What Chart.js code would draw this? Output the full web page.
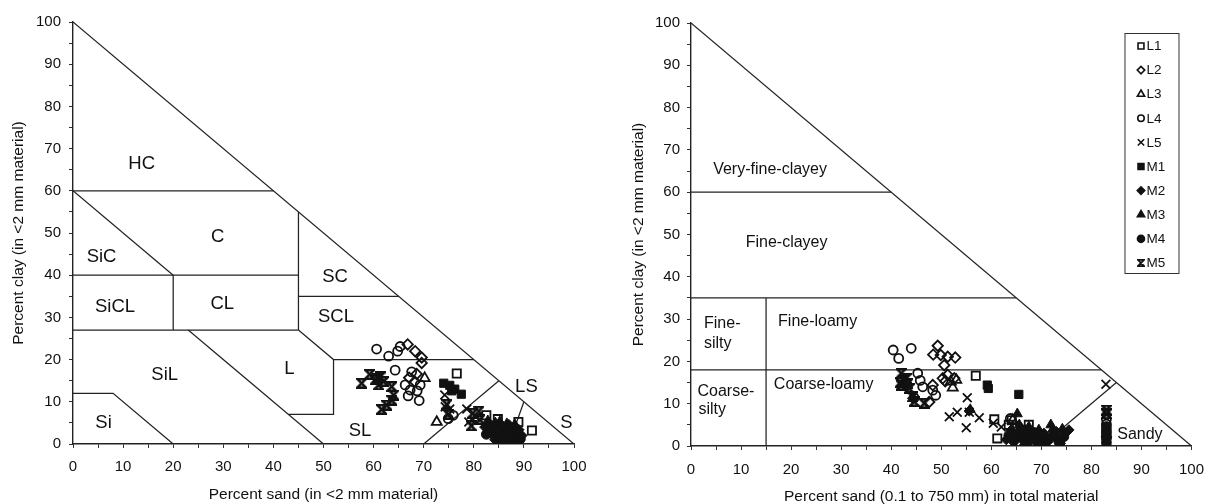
<!DOCTYPE html>
<html><head><meta charset="utf-8">
<script src="https://cdn.jsdelivr.net/npm/chart.js"></script>
<style>
html,body{margin:0;padding:0;background:#fff;}
#wrap{position:relative;width:1215px;height:504px;background:#fff;}
#c1{position:absolute;left:0;top:0;}
#c2{position:absolute;left:600px;top:0;}
</style></head><body>
<div id="wrap"><canvas id="c1" width="600" height="504"></canvas><canvas id="c2" width="615" height="504"></canvas></div>
<script>
// ---------- DATA: left chart (percent sand / clay in <2 mm material) ----------
const leftL1 = [[76.6,16.7],[82.5,6.8],[84.8,5.9],[88.9,5.2],[91.6,3.2]];
const leftL2 = [[66.8,23.6],[68.3,22.0],[69.6,20.5],[69.6,19.2],[68.6,16.6],[67.1,15.7],[68.2,14.8]];
const leftL3 = [[70.2,15.6],[72.6,5.2]];
const leftL4 = [[60.6,22.5],[63.0,20.8],[64.8,22.0],[65.3,23.1],[64.3,17.5],[67.6,17.1],[66.3,14.0],[67.3,12.8],[68.7,12.6],[66.9,11.4],[69.1,10.3],[69.3,14.0],[75.9,6.8],[74.9,6.0]];
const leftL5 = [[74.2,11.6],[75.2,8.3],[74.3,8.8],[78.6,8.3],[80.4,6.4],[79.0,5.2]];
const leftM1 = [[74.0,14.4],[75.2,13.9],[76.2,13.0],[77.5,11.8],[75.6,12.6]];
const leftM2 = [[82.2,4.0],[83.5,4.5],[84.5,3.2],[85.8,4.2],[86.0,2.0],[87.0,1.4],[87.5,2.8],[88.3,0.6],[89.0,3.4],[89.6,2.0],[84.2,1.0],[85.3,0.8],[87.0,4.6]];
const leftM3 = [[82.8,5.5],[84.3,5.0],[85.2,5.3],[86.6,4.8],[88.2,4.6],[86.9,0.3],[85.8,1.3],[88.8,1.0],[83.8,3.5]];
const leftM4 = [[83.2,3.0],[84.0,2.2],[84.8,1.5],[85.5,2.8],[86.2,1.0],[86.8,2.2],[87.4,0.4],[88.0,1.5],[88.6,2.6],[85.0,3.8],[86.5,3.5],[87.8,3.8],[89.3,1.2],[82.5,2.3]];
const leftM5 = [[57.6,14.4],[59.2,16.5],[60.3,15.2],[61.3,15.9],[61.0,14.0],[62.0,14.8],[60.8,15.6],[63.6,13.6],[64.0,11.6],[63.6,10.4],[62.6,9.2],[61.6,8.2],[74.6,9.4],[74.9,7.0],[79.8,7.3],[79.5,4.3],[81.2,5.8],[81.0,7.8]];

// ---------- DATA: right chart (percent sand 0.1 to 750 mm in total material) ----------
const rightL1 = [[56.9,16.6],[60.6,6.3],[61.2,1.8],[63.5,5.0],[64.1,6.1],[67.5,5.0],[66.0,3.5],[68.5,2.5]];
const rightL2 = [[49.3,23.7],[48.4,21.6],[49.9,21.5],[51.3,21.1],[52.8,20.9],[50.6,19.1],[50.3,16.0],[51.3,16.8],[52.6,16.0],[48.3,14.4],[50.8,15.3],[47.6,10.4]];
const rightL3 = [[51.9,15.2],[52.3,13.8],[53.0,15.6],[64.3,6.1]];
const rightL4 = [[40.4,22.7],[41.5,20.7],[44.0,23.1],[45.3,17.2],[46.3,14.0],[48.3,13.2],[48.9,12.0],[44.6,11.4],[45.8,15.5],[63.8,6.5],[65.0,2.0],[83.0,6.3],[83.0,5.2]];
const rightL5 = [[55.2,11.4],[51.6,6.9],[53.2,8.0],[55.6,8.0],[57.6,6.7],[55.0,4.3],[82.9,14.6],[60.4,5.4],[62.0,4.5]];
const rightM1 = [[59.2,14.4],[59.4,13.6],[65.5,12.2]];
const rightM2 = [[64.0,3.8],[65.0,2.0],[66.0,4.2],[67.3,2.8],[68.0,1.4],[69.0,2.6],[69.8,0.4],[70.5,3.0],[71.2,1.2],[72.0,2.0],[73.0,3.4],[73.8,0.6],[74.8,3.0],[75.5,3.8],[63.0,1.5],[83.0,2.3],[83.0,3.3],[55.6,8.3],[44.3,11.3]];
const rightM3 = [[65.2,7.6],[55.8,8.6],[65.6,5.0],[67.5,4.5],[69.5,3.8],[71.9,5.0],[72.3,4.0],[73.2,2.0],[70.2,1.5],[66.5,0.6],[74.2,4.0]];
const rightM4 = [[63.5,2.5],[64.5,1.2],[65.5,3.0],[66.2,1.8],[67.0,0.8],[67.8,2.2],[68.5,3.2],[69.2,1.0],[70.0,2.0],[70.8,0.5],[71.5,1.6],[72.5,2.6],[73.5,1.0],[74.5,2.2],[66.8,3.8],[83.0,0.8],[83.0,1.8],[83.0,2.8],[83.0,3.8],[83.0,4.6]];
const rightM5 = [[42.0,17.2],[42.4,15.6],[42.0,14.4],[43.3,14.8],[43.6,13.6],[44.3,11.6],[44.6,10.5],[46.6,10.1],[43.0,16.0],[41.8,15.0],[83.0,8.5],[83.0,7.6],[83.0,1.0]];

const seriesNames = ['L1','L2','L3','L4','L5','M1','M2','M3','M4','M5'];

// class boundaries (sand %, clay %)
const leftBoundaries = [
  [[0,100],[100,0]], [[0,60],[40,60]], [[0,60],[20,40]], [[0,40],[45,40]],
  [[45,55],[45,27]], [[20,40],[20,27]], [[0,27],[45,27]], [[45,35],[65,35]],
  [[45,27],[52,20],[80,20]], [[52,20],[52,7],[43,7]], [[23,27],[50,0]],
  [[0,12],[8,12],[20,0]], [[70,0],[85,15]], [[90,10],[87,0]]
];
const rightBoundaries = [
  [[0,100],[100,0]], [[0,60],[40,60]], [[0,35],[65,35]], [[0,18],[82,18]],
  [[15,35],[15,0]], [[70,0],[85,15]]
];
const leftRegionLabels = [
  ['HC',13.7,66.4],['C',28.9,49.1],['SiC',5.7,44.3],['SC',52.3,39.6],['SiCL',8.4,32.4],
  ['CL',29.8,33.2],['SCL',52.5,30.1],['SiL',18.3,16.3],['L',43.2,17.9],['LS',90.5,13.6],
  ['S',98.5,4.9],['Si',6.1,4.9],['SL',57.3,3.1]
];
const rightRegionLabels = [
  ['Very-fine-clayey',15.8,65.3,'center'],['Fine-clayey',19.1,48.2,'center'],
  ['Fine-',2.6,29.0,'left'],['silty',2.6,24.2,'left'],['Fine-loamy',25.3,29.5,'center'],
  ['Coarse-',1.3,12.8,'left'],['silty',1.5,8.5,'left'],['Coarse-loamy',26.5,14.4,'center'],
  ['Sandy',89.7,2.8,'center']
];
const xTitleLeft = 'Percent sand (in <2 mm material)';
const xTitleRight = 'Percent sand (0.1 to 750 mm) in total material';
const yTitle = 'Percent clay (in <2 mm material)';

// ---------- styles ----------
const FONT = '"Liberation Sans", Arial, Helvetica, sans-serif';
const INK = '#111';
Chart.defaults.font.family = FONT;
Chart.defaults.color = INK;

function hourglass(size, lw){
  const c = document.createElement('canvas'); c.width = size; c.height = size;
  const g = c.getContext('2d'); g.strokeStyle = INK; g.lineWidth = lw; g.lineJoin='miter';
  const a = lw/2, b = size - lw/2;
  g.beginPath(); g.moveTo(a,a); g.lineTo(b,a); g.lineTo(a,b); g.lineTo(b,b); g.closePath(); g.stroke();
  return c;
}
const hgPlot = hourglass(11, 2.4);
const hgLegend = hourglass(8, 1.8);

const markerStyles = ['rect','rectRot','triangle','circle','crossRot','rect','rectRot','triangle','circle', hgPlot];
const markerRadius = [5.8,5.2,5.8,4.5,6.2,5.8,5.2,5.8,4.9,5.5];
const markerFilled = [false,false,false,false,false,true,true,true,true,false];

function scatterSets(arrs){
  return arrs.map((arr,i)=>({
    type:'scatter', label: seriesNames[i],
    data: arr.map(p=>({x:p[0], y:p[1]})),
    pointStyle: markerStyles[i], pointRadius: markerRadius[i],
    backgroundColor: markerFilled[i] ? INK : 'rgba(255,255,255,0)',
    borderColor: INK, borderWidth: markerFilled[i] ? 1 : 1.8,
    order: 1
  }));
}
function lineSets(bounds){
  return bounds.map(b=>({
    type:'line', data: b.map(p=>({x:p[0], y:p[1]})), showLine:true,
    pointRadius:0, borderColor:'#222', borderWidth:1.25, fill:false, tension:0, order: 5
  }));
}

const regionLabelPlugin = {
  id:'regionLabels',
  beforeDatasetsDraw(chart, args, opts){
    const {ctx, scales:{x,y}} = chart;
    ctx.save(); ctx.fillStyle = INK; ctx.font = opts.font; ctx.textBaseline = 'middle';
    (opts.labels||[]).forEach(l=>{ ctx.textAlign = l[3]||'center';
      ctx.fillText(l[0], x.getPixelForValue(l[1]), y.getPixelForValue(l[2])); });
    ctx.restore();
  }
};
const boxLegendPlugin = {
  id:'boxLegend',
  afterDraw(chart, args, opts){
    if(!opts.show) return;
    const {ctx, chartArea} = chart;
    const left = chartArea.right - 67, top = chartArea.top + 10, w = 54, h = 240;
    ctx.save();
    ctx.strokeStyle = '#333'; ctx.lineWidth = 1; ctx.strokeRect(left+0.5, top+0.5, w, h);
    ctx.font = '13.5px ' + FONT; ctx.textAlign='left'; ctx.textBaseline='middle'; ctx.fillStyle = INK;
    const sets = chart.data.datasets.filter(d=>d.label);
    sets.forEach((d,i)=>{
      const cy = top + 13 + i*24.1, cx = left + 16.5;
      ctx.fillStyle = d.backgroundColor; ctx.strokeStyle = INK; ctx.lineWidth = 1.6;
      const st = (typeof d.pointStyle === 'string') ? d.pointStyle : hgLegend;
      Chart.helpers.drawPoint(ctx, {pointStyle: st, radius: d.pointRadius*0.72, rotation:0, borderWidth: 1.6}, cx, cy);
      ctx.fillStyle = INK;
      ctx.fillText(d.label, left + 22, cy + 0.5);
    });
    ctx.restore();
  }
};

function axes(xTitle, yAxisW, xAxisH, yTitlePad, yTickPad, xTickPad, xTitlePadBottom){
  const tickCb = v => (v % 10 === 0 ? String(v) : '');
  const common = {
    type:'linear', min:0, max:100,
    grid:{drawOnChartArea:false, drawTicks:true, tickLength:4, color:'#333', lineWidth:1},
    border:{display:true, color:'#222', width:1.4}
  };
  return {
    x: Object.assign({}, common, {
      afterFit(s){ s.height = xAxisH; },
      ticks:{stepSize:5, autoSkip:false, maxRotation:0, padding:xTickPad, font:{size:15}, color:INK, callback:tickCb},
      title:{display:true, text:xTitle, font:{size:15.5, lineHeight:1}, padding:{top:0,bottom:xTitlePadBottom}, color:INK}
    }),
    y: Object.assign({}, common, {
      afterFit(s){ s.width = yAxisW; },
      ticks:{stepSize:5, autoSkip:false, padding:yTickPad, font:{size:15}, color:INK, callback:tickCb},
      title:{display:true, text:yTitle, font:{size:15.5, lineHeight:1}, padding:{top:yTitlePad,bottom:0}, color:INK}
    })
  };
}

new Chart(document.getElementById('c1'), {
  type:'scatter',
  data:{datasets:[...scatterSets([leftL1,leftL2,leftL3,leftL4,leftL5,leftM1,leftM2,leftM3,leftM4,leftM5]), ...lineSets(leftBoundaries)]},
  options:{
    responsive:false, animation:false, devicePixelRatio:1,
    layout:{padding:{left:0, top:22, right:26, bottom:0}},
    plugins:{legend:{display:false}, tooltip:{enabled:false},
      regionLabels:{labels:leftRegionLabels, font:'18.5px ' + FONT}, boxLegend:{show:false}},
    scales: axes(xTitleLeft, 73, 60, 11, 8, 10, 2)
  },
  plugins:[regionLabelPlugin, boxLegendPlugin]
});
new Chart(document.getElementById('c2'), {
  type:'scatter',
  data:{datasets:[...scatterSets([rightL1,rightL2,rightL3,rightL4,rightL5,rightM1,rightM2,rightM3,rightM4,rightM5]), ...lineSets(rightBoundaries)]},
  options:{
    responsive:false, animation:false, devicePixelRatio:1,
    layout:{padding:{left:0, top:23, right:22, bottom:0}},
    plugins:{legend:{display:false}, tooltip:{enabled:false},
      regionLabels:{labels:rightRegionLabels, font:'16px ' + FONT}, boxLegend:{show:true}},
    scales: axes(xTitleRight, 91, 58, 31, 7, 11, 0)
  },
  plugins:[regionLabelPlugin, boxLegendPlugin]
});
</script>
</body></html>
